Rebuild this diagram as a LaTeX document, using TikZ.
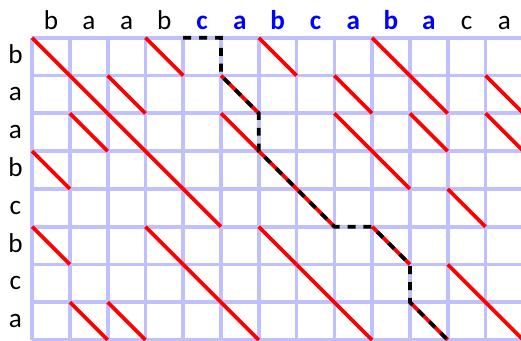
\documentclass[tikz,border=0pt]{standalone}
\usepackage{fontspec}
\setmainfont{Carlito}
\definecolor{gridblue}{RGB}{192,192,255}
\begin{document}
\begin{tikzpicture}[x=1cm,y=1cm,
  gridline/.style={draw=gridblue,line width=2.8pt},
  matchline/.style={draw=red,line width=2.8pt},
  pathline/.style={draw=black,line width=2.8pt,dash pattern=on 6pt off 6pt},
  lbl/.style={font=\fontsize{20.5}{24}\selectfont,anchor=base,inner sep=0pt},
  hl/.style={lbl,text=blue,font=\fontsize{20.5}{24}\selectfont\bfseries}]
\useasboundingbox (-0.85,-8.0) rectangle (12.94,1.0);
% grid
\foreach \i in {0,...,13} \draw[gridline] (\i,0) -- (\i,-8);
\foreach \j in {0,...,8} \draw[gridline] (0,-\j) -- (13,-\j);
% column labels
\def\colA{b,a,a,b,c,a,b,c,a,b,a,c,a}
\foreach \c [count=\k from 0] in \colA {
  \ifnum\k>3 \ifnum\k<11
    \node[hl] (c\k) at (\k+0.5,0.22) {\c};
  \else
    \node[lbl] (c\k) at (\k+0.5,0.22) {\c};
  \fi\else
    \node[lbl] (c\k) at (\k+0.5,0.22) {\c};
  \fi
}
% row labels
\def\rowA{b,a,a,b,c,b,c,a}
\foreach \r [count=\k from 0] in \rowA
  \node[lbl] (r\k) at (-0.44,-\k-0.67) {\r};
% matches
\foreach \r [count=\i from 0] in \rowA {
  \foreach \c [count=\j from 0] in \colA {
    \ifx\r\c
      \draw[matchline] (\j,-\i) -- (\j+1,-\i-1);
    \fi
  }
}
% alignment path
\coordinate (p0) at (4,0);
\coordinate (p1) at (5,0);
\coordinate (p2) at (5,-1);
\coordinate (p3) at (6,-2);
\coordinate (p4) at (6,-3);
\coordinate (p5) at (8,-5);
\coordinate (p6) at (9,-5);
\coordinate (p7) at (10,-6);
\coordinate (p8) at (10,-7);
\coordinate (p9) at (11,-8);
\draw[pathline] (p0) -- (p1) -- (p2) -- (p3) -- (p4) -- (p5) -- (p6) -- (p7) -- (p8) -- (p9);
\end{tikzpicture}
\end{document}
